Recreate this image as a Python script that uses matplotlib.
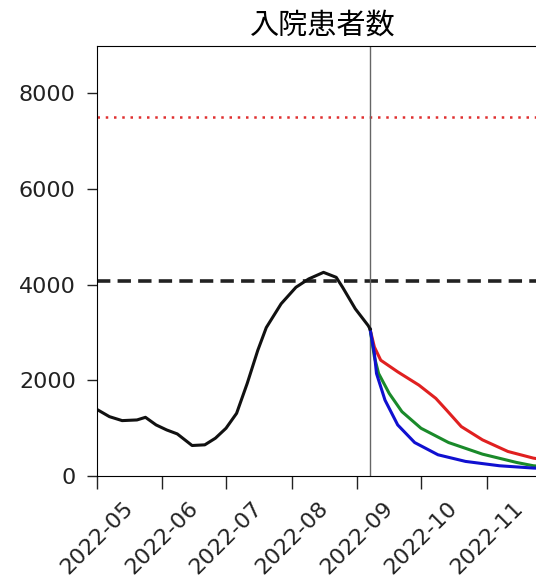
import matplotlib.pyplot as plt
import matplotlib.dates as mdates
import pandas as pd

plt.rcParams['font.family'] = ['DejaVu Sans', 'Noto Sans CJK JP']

# observed inpatients (black)
obs_dates = ['2022-05-01', '2022-05-07', '2022-05-13', '2022-05-20', '2022-05-24', '2022-05-29',
             '2022-06-03', '2022-06-08', '2022-06-15', '2022-06-21', '2022-06-26', '2022-07-01',
             '2022-07-06', '2022-07-11', '2022-07-16', '2022-07-20', '2022-07-27', '2022-08-03',
             '2022-08-09', '2022-08-16', '2022-08-22', '2022-08-25', '2022-08-31', '2022-09-06',
             '2022-09-07']
obs_vals = [1390, 1236, 1153, 1167, 1222, 1063, 958, 875, 632, 646, 785, 993,
            1306, 1931, 2625, 3100, 3598, 3944, 4118, 4256, 4152, 3944, 3493, 3146,
            3070]

# projections
red_dates = ['2022-09-07', '2022-09-09', '2022-09-12', '2022-09-20', '2022-09-30', '2022-10-08',
             '2022-10-13', '2022-10-20', '2022-10-30', '2022-11-11', '2022-11-23', '2022-11-30']
red_vals = [3060, 2694, 2417, 2174, 1896, 1618, 1375, 1028, 750, 507, 368, 320]
green_dates = ['2022-09-07', '2022-09-09', '2022-09-11', '2022-09-16', '2022-09-22', '2022-10-01',
               '2022-10-14', '2022-10-30', '2022-11-15', '2022-11-23', '2022-11-30']
green_vals = [3060, 2486, 2139, 1722, 1340, 993, 694, 451, 278, 208, 185]
blue_dates = ['2022-09-07', '2022-09-09', '2022-09-10', '2022-09-14', '2022-09-20', '2022-09-28',
              '2022-10-09', '2022-10-22', '2022-11-07', '2022-11-23', '2022-11-30']
blue_vals = [3060, 2556, 2139, 1583, 1063, 694, 438, 299, 208, 160, 150]

capacity = 7500
threshold = 4070
cutoff = '2022-09-07'
months = pd.date_range('2022-05-01', '2022-11-01', freq='MS')

fig = plt.figure(figsize=(5.36, 5.84), dpi=100)
ax = fig.add_axes([96.7/536, 108.3/584, 451.5/536, 430/584])

ax.axhline(capacity, color='#e03030', ls=(0, (1, 2.3)), lw=1.8)
ax.axhline(threshold, color='#222222', ls=(0, (3.7, 2)), lw=2.6)
ax.axvline(pd.Timestamp(cutoff), color='#666666', lw=1)

ax.plot(pd.to_datetime(red_dates), red_vals, color='#e02020', lw=2.2)
ax.plot(pd.to_datetime(green_dates), green_vals, color='#1a8a2a', lw=2.2)
ax.plot(pd.to_datetime(blue_dates), blue_vals, color='#1010d0', lw=2.2)
ax.plot(pd.to_datetime(obs_dates), obs_vals, color='#111111', lw=2.2)

ax.set_xlim(pd.Timestamp('2022-05-01'), pd.Timestamp('2022-11-30'))
ax.set_ylim(0, 9000)
ax.set_yticks([0, 2000, 4000, 6000, 8000])
ax.set_xticks(months)
ax.xaxis.set_major_formatter(mdates.DateFormatter('%Y-%m'))
plt.setp(ax.get_xticklabels(), rotation=45)
ax.tick_params(labelsize=16, width=1, colors='#222222')
ax.tick_params(axis='y', length=7, pad=8)
ax.tick_params(axis='x', length=9, pad=7)
ax.spines['right'].set_visible(False)
ax.set_title('入院患者数', fontsize=21, pad=9, family=['Noto Sans CJK JP'])

fig.savefig('out.png', dpi=100)
